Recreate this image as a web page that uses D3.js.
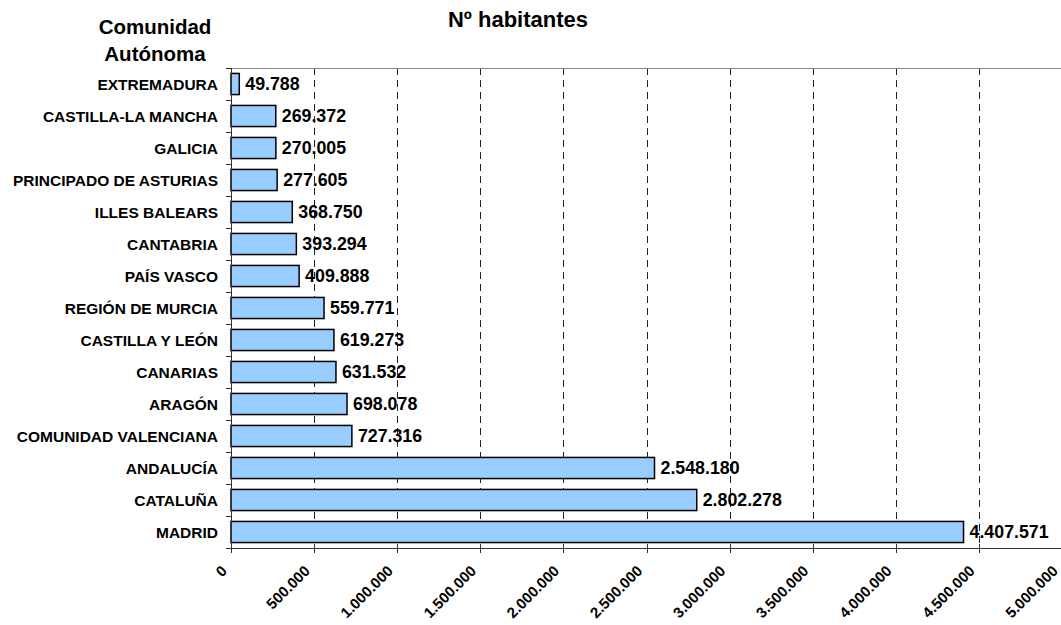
<!DOCTYPE html>
<html>
<head>
<meta charset="utf-8">
<script src="https://cdn.jsdelivr.net/npm/d3@7"></script>
<style>
    body { margin: 0; background: #fff; }
    text { font-family: "Liberation Sans", Arial, sans-serif; font-weight: bold; fill: #000; }
</style>
</head>
<body>
<script>
// data, top to bottom as in the chart
var comunidades = ["EXTREMADURA", "CASTILLA-LA MANCHA", "GALICIA", "PRINCIPADO DE ASTURIAS",
    "ILLES BALEARS", "CANTABRIA", "PAÍS VASCO", "REGIÓN DE MURCIA", "CASTILLA Y LEÓN",
    "CANARIAS", "ARAGÓN", "COMUNIDAD VALENCIANA", "ANDALUCÍA", "CATALUÑA", "MADRID"];
var habitantes = [49788, 269372, 270005, 277605, 368750, 393294, 409888, 559771, 619273,
    631532, 698078, 727316, 2548180, 2802278, 4407571];
var xTicks = [0, 500000, 1000000, 1500000, 2000000, 2500000, 3000000, 3500000, 4000000, 4500000, 5000000];

var w = 1061, h = 625;
var pLeft = 231, pRight = 1062, pTop = 68, pBottom = 548;

var es = d3.formatLocale({decimal: ",", thousands: ".", grouping: [3], currency: ["", "€"]});
var fmt = es.format(",d");

var svg = d3.select("body").append("svg")
    .attr("width", w)
    .attr("height", h);

var x = d3.scaleLinear().domain([0, 5000000]).range([pLeft, pRight]);
var y = d3.scaleBand().domain(comunidades).range([pTop, pBottom])
    .paddingInner(0.34).paddingOuter(0.17);

var data = comunidades.map(function(c, i) { return {name: c, value: habitantes[i]}; });

//Gridlines
svg.append("g").selectAll("line")
    .data(xTicks.filter(function(d) { return d > 0; }))
    .enter().append("line")
    .attr("x1", function(d) { return Math.round(x(d)) + 0.5; })
    .attr("x2", function(d) { return Math.round(x(d)) + 0.5; })
    .attr("y1", pTop)
    .attr("y2", pBottom)
    .attr("stroke", "#222")
    .attr("stroke-dasharray", "7,5");

//Top border
svg.append("line")
    .attr("x1", pLeft).attr("x2", pRight)
    .attr("y1", pTop + 0.5).attr("y2", pTop + 0.5)
    .attr("stroke", "#888");

//Bars
svg.append("g").selectAll("rect")
    .data(data)
    .enter().append("rect")
    .attr("x", x(0))
    .attr("y", function(d) { return y(d.name); })
    .attr("width", function(d) { return x(d.value) - x(0); })
    .attr("height", y.bandwidth())
    .attr("fill", "#99ccff")
    .attr("stroke", "#000")
    .attr("stroke-width", 1.5);

//Value labels
svg.append("g").selectAll("text")
    .data(data)
    .enter().append("text")
    .attr("x", function(d) { return x(d.value) + 6; })
    .attr("y", function(d) { return y(d.name) + y.bandwidth() / 2; })
    .attr("dy", "0.36em")
    .style("font-size", "17.8px")
    .text(function(d) { return fmt(d.value); });

//Y axis
var step = y.step();
var yAxis = svg.append("g");
yAxis.append("line")
    .attr("x1", pLeft + 0.5).attr("x2", pLeft + 0.5)
    .attr("y1", pTop).attr("y2", pBottom)
    .attr("stroke", "#333");
yAxis.selectAll(".tick")
    .data(d3.range(comunidades.length + 1))
    .enter().append("line")
    .attr("x1", pLeft - 5).attr("x2", pLeft)
    .attr("y1", function(i) { return Math.round(pTop + i * step) + 0.5; })
    .attr("y2", function(i) { return Math.round(pTop + i * step) + 0.5; })
    .attr("stroke", "#333");
yAxis.selectAll("text")
    .data(comunidades)
    .enter().append("text")
    .attr("x", pLeft - 13)
    .attr("y", function(d) { return y(d) + y.bandwidth() / 2; })
    .attr("dy", "0.36em")
    .attr("text-anchor", "end")
    .style("font-size", "15.5px")
    .text(function(d) { return d; });

//X axis
var xAxis = svg.append("g");
xAxis.append("line")
    .attr("x1", pLeft).attr("x2", pRight)
    .attr("y1", pBottom + 0.5).attr("y2", pBottom + 0.5)
    .attr("stroke", "#333");
xAxis.selectAll(".tick")
    .data(xTicks)
    .enter().append("line")
    .attr("x1", function(d) { return Math.round(x(d)) + 0.5; })
    .attr("x2", function(d) { return Math.round(x(d)) + 0.5; })
    .attr("y1", pBottom - 4)
    .attr("y2", pBottom + 5)
    .attr("stroke", "#333");
xAxis.selectAll("text")
    .data(xTicks)
    .enter().append("text")
    .attr("transform", function(d) { return "translate(" + (x(d) - 7) + "," + (pBottom + 20) + ") rotate(-45)"; })
    .attr("text-anchor", "end")
    .attr("dy", "0.36em")
    .style("font-size", "15px")
    .text(function(d) { return fmt(d); });

//Titles
svg.append("text")
    .attr("x", 518).attr("y", 27)
    .attr("text-anchor", "middle")
    .style("font-size", "22px")
    .text("Nº habitantes");

var ca = svg.append("text")
    .attr("text-anchor", "middle")
    .style("font-size", "20.5px");
ca.append("tspan").attr("x", 155).attr("y", 34).text("Comunidad");
ca.append("tspan").attr("x", 155).attr("y", 61).text("Autónoma");
</script>
</body>
</html>
